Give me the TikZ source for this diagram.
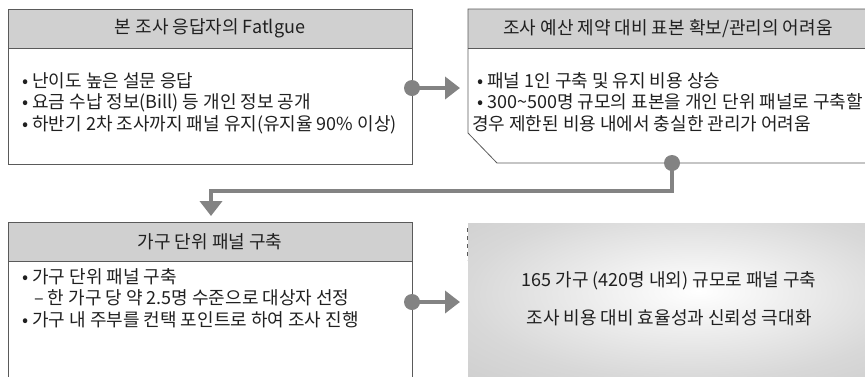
\documentclass[tikz,border=0pt]{standalone}
\usepackage{fontspec}
\setmainfont{Noto Sans CJK KR}
\usetikzlibrary{arrows.meta}
\definecolor{hdr}{HTML}{D0D0D0}
\definecolor{edge}{HTML}{5A5A5A}
\definecolor{conn}{HTML}{838383}
\definecolor{txt}{HTML}{202020}
\definecolor{shout}{HTML}{C6C6C6}
\definecolor{shmid}{HTML}{D8D8D8}
\pgfdeclareradialshading{resultshade}{\pgfpoint{4bp}{3bp}}{color(0bp)=(white); color(28bp)=(shmid); color(50bp)=(shout); color(80bp)=(shout)}
\tikzset{
  boxedge/.style={draw=edge, line width=0.8pt},
  hdrfill/.style={fill=hdr},
  hdrtext/.style={font=\fontsize{18}{20}\selectfont, text=txt, inner sep=0pt},
  bodytext/.style={font=\fontsize{18}{20}\selectfont, text=txt, inner sep=0pt, anchor=west},
  conline/.style={draw=conn, line width=4pt},
  conarrow/.style={conline, -{Triangle[length=15pt,width=22pt]}},
  condot/.style={circle, fill=conn, minimum size=16pt, inner sep=0pt},
}
\begin{document}
\begin{tikzpicture}[x=1pt,y=-1pt]
\useasboundingbox (0,0) rectangle (865,376);
% box 1
\node[hdrfill, boxedge, minimum width=404pt, minimum height=39pt, inner sep=0pt, anchor=north west] (h1) at (8,9) {};
\draw[boxedge] (8,48) -- (8,164) -- (412,164) -- (412,48);
\node[hdrtext] (h1t) at (210,28.5) {본 조사 응답자의 Fatlgue};
\node[bodytext] (b1a) at (22,81) {• 난이도 높은 설문 응답};
\node[bodytext] (b1b) at (22,103) {• 요금 수납 정보(Bill) 등 개인 정보 공개};
\node[bodytext] (b1c) at (22,125) {• 하반기 2차 조사까지 패널 유지(유지율 90\% 이상)};
\coordinate (d1) at (412,88);
% box 2
\fill[hdr] (468,9) rectangle (866,48);
\draw[boxedge] (866,9) -- (468,9) -- (468,133) -- (497,163) -- (866,163);
\draw[boxedge] (468,48) -- (866,48);
\node[hdrtext] (h2t) at (668,28.5) {조사 예산 제약 대비 표본 확보/관리의 어려움};
\node[bodytext] (b2a) at (477,81) {• 패널 1인 구축 및 유지 비용 상승};
\node[bodytext] (b2b) at (477,102) {• 300\textasciitilde500명 규모의 표본을 개인 단위 패널로 구축할};
\node[bodytext] (b2c) at (472,124) {경우 제한된 비용 내에서 충실한 관리가 어려움};
\coordinate (d2) at (672,163);
\coordinate (in1) at (460,88);
% box 3
\node[hdrfill, boxedge, minimum width=404pt, minimum height=39pt, inner sep=0pt, anchor=north west] (h3) at (8,222) {};
\draw[boxedge] (8,261) -- (8,377);
\draw[boxedge] (412,261) -- (412,377);
\node[hdrtext] (h3t) at (210,242) {가구 단위 패널 구축};
\node[bodytext] (b3a) at (22,277) {• 가구 단위 패널 구축};
\node[bodytext] (b3b) at (34,298) {– 한 가구 당 약 2.5명 수준으로 대상자 선정};
\node[bodytext] (b3c) at (22,320) {• 가구 내 주부를 컨택 포인트로 하여 조사 진행};
\coordinate (d3) at (412,302);
\coordinate (in3) at (460,302);
\coordinate (in2) at (211,216);
% box 4
\shade[shading=resultshade] (468,223) rectangle (866,377);
\draw[draw=edge, line width=1pt, dash pattern=on 4pt off 4pt] (467,228) -- (467,260);
\node[hdrtext] (r1) at (669,281) {165 가구 (420명 내외) 규모로 패널 구축};
\node[hdrtext] (r2) at (669,318) {조사 비용 대비 효율성과 신뢰성 극대화};
% connectors
\node[condot] (c1) at (d1) {};
\draw[conarrow] (c1.center) -- (in1);
\node[condot] (c2) at (d2) {};
\draw[conarrow] (c2.center) -- (672,190.5) -- (211,190.5) -- (in2);
\node[condot] (c3) at (d3) {};
\draw[conarrow] (c3.center) -- (in3);
\end{tikzpicture}
\end{document}
